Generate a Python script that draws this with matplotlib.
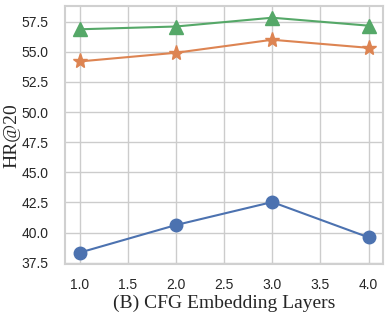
import matplotlib
matplotlib.use("Agg")
import matplotlib.pyplot as plt
import seaborn as sns

layers = [1.0, 2.0, 3.0, 4.0]
series_blue = [38.33, 40.62, 42.53, 39.60]
series_orange = [54.20, 54.92, 56.00, 55.33]
series_green = [56.87, 57.10, 57.83, 57.17]
xticks = [1.0, 1.5, 2.0, 2.5, 3.0, 3.5, 4.0]
yticks = [37.5, 40.0, 42.5, 45.0, 47.5, 50.0, 52.5, 55.0, 57.5]

sns.set_theme(style="whitegrid")
plt.rcParams['font.family'] = ['Liberation Sans', 'DejaVu Sans']

fig, ax = plt.subplots(figsize=(3.9, 3.14), dpi=100)
pal = sns.color_palette("deep")
ax.plot(layers, series_blue, marker='o', color=pal[0], markersize=9, linewidth=1.5)
ax.plot(layers, series_orange, marker='*', color=pal[1], markersize=11, linewidth=1.5)
ax.plot(layers, series_green, marker='^', color=pal[2], markersize=10, linewidth=1.5)

ax.set_xticks(xticks)
ax.set_yticks(yticks)
ax.tick_params(axis='both', labelsize=10)
ax.tick_params(axis='y', pad=6)
ax.tick_params(axis='x', pad=4)
ax.xaxis.set_major_formatter(matplotlib.ticker.FormatStrFormatter('%.1f'))
ax.yaxis.set_major_formatter(matplotlib.ticker.FormatStrFormatter('%.1f'))
ax.set_xlabel("(B) CFG Embedding Layers", family='Liberation Serif', fontsize=14, labelpad=2)
ax.set_ylabel("HR@20", family='Liberation Serif', fontsize=14, labelpad=1)
for s in ax.spines.values():
    s.set_color('#d0d0d0')
    s.set_linewidth(1.5)
fig.subplots_adjust(left=0.167, right=0.982, top=0.981, bottom=0.158)
fig.savefig("out.png", dpi=100)
